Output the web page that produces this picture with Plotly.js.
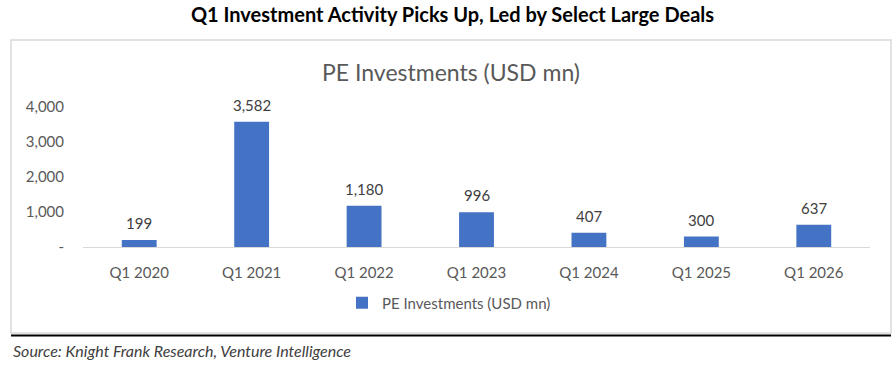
<!DOCTYPE html>
<html><head><meta charset="utf-8">
<script src="https://cdn.plot.ly/plotly-3.0.1.min.js"></script>
<style>body{margin:0;background:#fff}#c{width:896px;height:365px}</style>
</head><body><div id="c"></div>
<script>
const categories = ["Q1 2020","Q1 2021","Q1 2022","Q1 2023","Q1 2024","Q1 2025","Q1 2026"];
const values = [199, 3582, 1180, 996, 407, 300, 637];
const seriesName = "PE Investments (USD mn)";
const yTickVals = [0, 1000, 2000, 3000, 4000];
const yTickText = ["-", "1,000", "2,000", "3,000", "4,000"];

const W = 896, H = 365, L = 83, R = 870, T = 107, B = 247;
const px = x => (x - L) / (R - L);
const py = y => (B - y) / (B - T);
const font = "Lato, 'Open Sans', sans-serif";

const labels = categories.map((c, i) => ({
  x: c, y: values[i], xref: 'x', yref: 'y', yanchor: 'bottom', yshift: 6,
  text: values[i].toLocaleString('en-US'), showarrow: false,
  font: {family: font, size: 15, color: '#404040'}
}));

const data = [{
  type: 'bar', x: categories, y: values, name: seriesName,
  marker: {color: '#4472C4'}, hoverinfo: 'none'
}];

const layout = {
  width: W, height: H, paper_bgcolor: '#fff', plot_bgcolor: '#fff',
  margin: {l: L, r: W - R, t: T, b: H - B, pad: 0},
  bargap: 0.69,
  title: {text: '<b>Q1 Investment Activity Picks Up, Led by Select Large Deals</b>',
    x: 0.505, xanchor: 'center', y: 1 - 15/H, yanchor: 'middle', yref: 'container',
    font: {family: font, size: 20, color: '#000'}},
  xaxis: {type: 'category', showline: true, linecolor: '#d9d9d9', linewidth: 1,
    showgrid: false, zeroline: false, ticks: '', ticklabelstandoff: 12,
    tickfont: {family: font, size: 15, color: '#595959'}},
  yaxis: {range: [0, 4000], tickvals: yTickVals, ticktext: yTickText,
    showgrid: false, zeroline: false, showline: false, ticks: '', ticklabelstandoff: 18,
    tickfont: {family: font, size: 15, color: '#595959'}},
  showlegend: true,
  legend: {orientation: 'h', x: px(449), xanchor: 'center', y: py(303), yanchor: 'middle',
    font: {family: font, size: 15, color: '#595959'}, itemwidth: 30},
  annotations: labels.concat([
    {x: px(451), y: py(72), xref: 'paper', yref: 'paper', text: seriesName, showarrow: false,
      xanchor: 'center', yanchor: 'middle', font: {family: font, size: 23, color: '#595959'}},
    {x: px(11), y: py(350), xref: 'paper', yref: 'paper', text: '<i>Source: Knight Frank Research, Venture Intelligence</i>',
      showarrow: false, xanchor: 'left', yanchor: 'middle', font: {family: font, size: 16, color: '#404040'}}
  ]),
  shapes: [
    {type: 'rect', xref: 'paper', yref: 'paper', x0: px(11), x1: px(891), y0: py(333), y1: py(40),
      line: {color: '#d9d9d9', width: 1.5}, layer: 'below'},
    {type: 'line', xref: 'paper', yref: 'paper', x0: px(11), x1: px(891), y0: py(335.5), y1: py(335.5),
      line: {color: '#000', width: 2}}
  ]
};
Plotly.newPlot('c', data, layout, {staticPlot: true, displayModeBar: false});
</script></body></html>
